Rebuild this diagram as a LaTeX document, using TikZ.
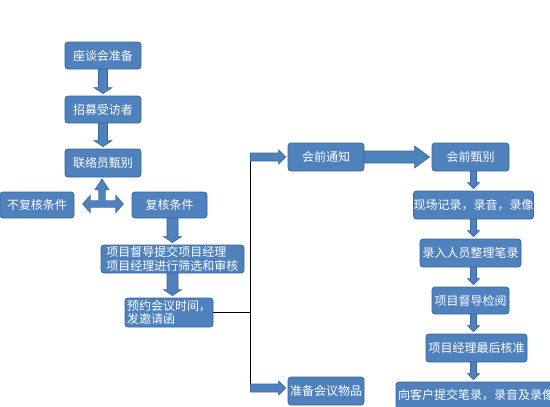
\documentclass[tikz,border=0pt]{standalone}
\usepackage{fontspec}
\setmainfont{Noto Sans CJK SC}
\usetikzlibrary{calc}

\definecolor{boxfill}{HTML}{4F81BD}
\definecolor{boxline}{HTML}{3A6699}

\tikzset{
  box/.style={draw=boxline, fill=boxfill, line width=0.8pt, rounded corners=3pt,
    text=white, minimum height=27pt, inner xsep=0pt, inner ysep=1pt,
    font=\fontsize{12}{13.5}\selectfont},
  % block arrow: half shaft width, half head width, head length
  barrow/.style n args={3}{draw=boxline, fill=boxfill, line width=0.6pt,
    to path={
      ($(\tikztotarget)!2pt!(\tikztostart)$) coordinate (bat)
      ($(bat)!#3!(\tikztostart)$) coordinate (bah)
      ($(\tikztostart)!#1!90:(bat)$) -- ($(bah)!#1!-90:(\tikztostart)$)
      -- ($(bah)!#2!-90:(\tikztostart)$) -- (bat)
      -- ($(bah)!#2!90:(\tikztostart)$) -- ($(bah)!#1!90:(\tikztostart)$)
      -- ($(\tikztostart)!#1!-90:(bat)$) -- cycle}},
  link/.style={draw=black, line width=0.8pt}
}

\begin{document}
\begin{tikzpicture}[x=1pt, y=-1pt]

  \useasboundingbox (0,0) rectangle (550,407);
  \clip (0,0) rectangle (550,407);

  % ==========================================
  % left column: recruiting
  % ==========================================
  \node[box, minimum width=76pt] (prep) at (103,55.5) {座谈会准备};
  \node[box, minimum width=76pt] (recruit) at (103,109.5) {招募受访者};
  \node[box, minimum width=76pt, minimum height=28pt] (screen) at (103,163) {联络员甄别};
  \node[box, minimum width=74pt, minimum height=26pt] (norecheck) at (37,205) {不复核条件};
  \node[box, minimum width=75pt, minimum height=26pt] (recheck) at (169.5,205) {复核条件};
  \node[box, minimum width=143pt, minimum height=28pt, align=left] (submit) at (172.5,259)
    {项目督导提交项目经理\\项目经理进行筛选和审核};
  \node[box, minimum width=88pt, minimum height=29pt, align=left] (invite) at (169,312.5)
    {预约会议时间，\\发邀请函};

  \draw[barrow={4.5pt}{9pt}{6pt}] (prep.south) to (recruit.north);
  \draw[barrow={4.5pt}{9pt}{6pt}] (recruit.south) to (screen.north);
  \draw[barrow={5.5pt}{9pt}{6pt}] (submit.north |- recheck.south) to (submit.north);
  \draw[barrow={5.5pt}{9pt}{6pt}] (submit.south) to (submit.south |- invite.north);

  % junction: left, right and up
  \coordinate (jn) at (102,204);
  \coordinate (jl) at (81,204);
  \coordinate (jr) at (125,204);
  \draw[barrow={3pt}{8pt}{7pt}, line width=1.2pt, fill=none] (jn) to (jl) (jn) to (jr);
  \draw[barrow={3pt}{6.5pt}{10pt}, line width=1.2pt, fill=none] (jn) to (jn |- screen.south);
  \path[barrow={3pt}{8pt}{7pt}, draw=none] (jn) to (jl) (jn) to (jr);
  \path[barrow={3pt}{6.5pt}{10pt}, draw=none] (jn) to (jn |- screen.south);

  % ==========================================
  % branch line
  % ==========================================
  \coordinate (jtop) at (250.5,157);
  \coordinate (jbot) at (250.5,388);
  \draw[link] (jtop) -- (jbot);
  \draw[link] (invite.east) -- (invite.east -| jtop);

  % ==========================================
  % right part: the meeting
  % ==========================================
  \node[box, minimum width=76pt, minimum height=28pt] (notice) at (326,157) {会前通知};
  \node[box, minimum width=77pt, minimum height=28pt] (prescreen) at (470.5,157) {会前甄别};
  \node[box, minimum width=119pt, minimum height=28pt] (record) at (473.5,205) {现场记录，录音，录像};
  \node[box, minimum width=101pt, minimum height=28pt] (transcribe) at (470.5,253) {录入人员整理笔录};
  \node[box, minimum width=77pt] (review) at (470.5,300.5) {项目督导检阅};
  \node[box, minimum width=101pt, minimum height=28pt] (approve) at (476.5,348) {项目经理最后核准};
  \node[box, minimum width=160pt] (deliver) at (476,395.5) {向客户提交笔录，录音及录像};
  \node[box, minimum width=76pt, minimum height=28pt] (items) at (326,391) {准备会议物品};

  \draw[barrow={4pt}{7pt}{7pt}] (jtop) to (notice.west);
  \draw[barrow={4pt}{7pt}{7pt}] (jbot) to (jbot -| items.west);
  \draw[barrow={6pt}{11pt}{15pt}] (notice.east) to (prescreen.west);

  \coordinate (rc) at (473.5,0);
  \draw[barrow={3pt}{6pt}{6pt}] (rc |- prescreen.south) to (rc |- record.north);
  \draw[barrow={3pt}{6pt}{6pt}] (rc |- record.south) to (rc |- transcribe.north);
  \draw[barrow={3pt}{6pt}{6pt}] (rc |- transcribe.south) to (rc |- review.north);
  \draw[barrow={3pt}{6pt}{6pt}] (rc |- review.south) to (rc |- approve.north);
  \draw[barrow={3pt}{6pt}{6pt}] (rc |- approve.south) to (rc |- deliver.north);

\end{tikzpicture}
\end{document}
